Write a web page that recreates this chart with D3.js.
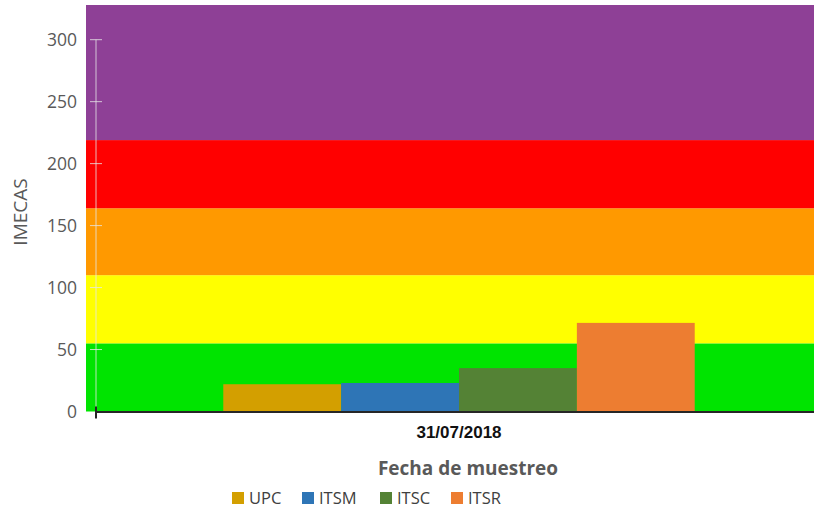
<!DOCTYPE html>
<html>
<head>
<meta charset="utf-8">
<script src="https://cdn.jsdelivr.net/npm/d3@7"></script>
<style>
  body { margin: 0; background: #fff; }
  svg { display: block; }
</style>
</head>
<body>
<div id="chart"></div>
<script>
// data
const dates = ["31/07/2018"];
const stations = ["UPC", "ITSM", "ITSC", "ITSR"];
const imecas = [22, 23, 35, 71.5];
const stationColors = ["#D39F00", "#2E75B6", "#548235", "#ED7D31"];

// IMECA quality bands (lower, upper)
const bandLows = [0, 55, 110, 164, 219];
const bandHighs = [55, 110, 164, 219, 328];
const bandColors = ["#00E400", "#FFFF00", "#FF9900", "#FF0000", "#8E4096"];

const yTicks = [0, 50, 100, 150, 200, 250, 300];

const width = 814, height = 509;
const margin = { top: 5, left: 96, right: -8, bottom: 98 };

const svg = d3.select("#chart").append("svg")
  .attr("width", width).attr("height", height);

const y = d3.scaleLinear().domain([0, 328]).range([height - margin.bottom + 0.5, margin.top]);
const x0 = d3.scaleBand().domain(dates)
  .range([margin.left, width - margin.right]).paddingOuter(0.27).paddingInner(0);
const x1 = d3.scaleBand().domain(stations).range([0, x0.bandwidth()]).padding(0);

// background bands
svg.append("g").selectAll("rect")
  .data(bandLows.map((lo, i) => ({ lo, hi: bandHighs[i], c: bandColors[i] })))
  .join("rect")
  .attr("x", 86)
  .attr("width", width - 86)
  .attr("y", d => y(d.hi))
  .attr("height", d => y(d.lo) - y(d.hi))
  .attr("fill", d => d.c);

// bars
svg.append("g").selectAll("rect")
  .data(stations.map((s, i) => ({ s, v: imecas[i], c: stationColors[i] })))
  .join("rect")
  .attr("x", d => x0(dates[0]) + x1(d.s))
  .attr("width", x1.bandwidth())
  .attr("y", d => y(d.v))
  .attr("height", d => y(0) - y(d.v))
  .attr("fill", d => d.c);

// y axis
const yAxis = svg.append("g")
  .attr("transform", `translate(${margin.left},0)`)
  .call(d3.axisLeft(y).tickValues(yTicks).tickSize(0).tickPadding(19));
yAxis.select(".domain").remove();
yAxis.selectAll("text")
  .attr("fill", "#595959")
  .style("font-family", "'Open Sans', sans-serif")
  .style("font-size", "17.5px");
yAxis.append("line")
  .attr("y1", y(300)).attr("y2", y(0))
  .attr("stroke", "#e6e6e6").attr("stroke-opacity", 0.8);
yAxis.selectAll(".tk").data(yTicks.slice(1)).join("line")
  .attr("x1", -6).attr("x2", 6)
  .attr("y1", d => y(d)).attr("y2", d => y(d))
  .attr("stroke", "#e6e6e6").attr("stroke-opacity", 0.8);

// x axis
svg.append("line")
  .attr("x1", margin.left).attr("x2", width)
  .attr("y1", y(0) + 0.5).attr("y2", y(0) + 0.5)
  .attr("stroke", "#262626").attr("stroke-width", 2);
svg.append("line")
  .attr("x1", margin.left).attr("x2", margin.left)
  .attr("y1", y(0) - 5).attr("y2", y(0) + 7)
  .attr("stroke", "#262626").attr("stroke-width", 2);

svg.selectAll(".xlab").data(dates).join("text")
  .attr("x", d => x0(d) + x0.bandwidth() / 2)
  .attr("y", 438)
  .attr("text-anchor", "middle")
  .attr("fill", "#111")
  .style("font-family", "'Liberation Sans', Arial, sans-serif")
  .style("font-weight", "bold")
  .style("font-size", "17px")
  .text(d => d);

// axis titles
svg.append("text")
  .attr("transform", "translate(27,212) rotate(-90)")
  .attr("text-anchor", "middle")
  .attr("fill", "#595959")
  .style("font-family", "'Open Sans', sans-serif")
  .style("font-size", "19px")
  .text("IMECAS");

svg.append("text")
  .attr("x", 468).attr("y", 475)
  .attr("text-anchor", "middle")
  .attr("fill", "#595959")
  .style("font-family", "'Open Sans', sans-serif")
  .style("font-weight", "bold")
  .style("font-size", "19px")
  .text("Fecha de muestreo");

// legend
const legendX = [232, 302, 380, 451];
const legend = svg.append("g").selectAll("g")
  .data(stations)
  .join("g")
  .attr("transform", (d, i) => `translate(${legendX[i]},492)`);
legend.append("rect")
  .attr("width", 12).attr("height", 12)
  .attr("fill", (d, i) => stationColors[i]);
legend.append("text")
  .attr("x", 17).attr("y", 12)
  .attr("fill", "#404040")
  .style("font-family", "'Open Sans', sans-serif")
  .style("font-size", "16.5px")
  .text(d => d);
</script>
</body>
</html>
